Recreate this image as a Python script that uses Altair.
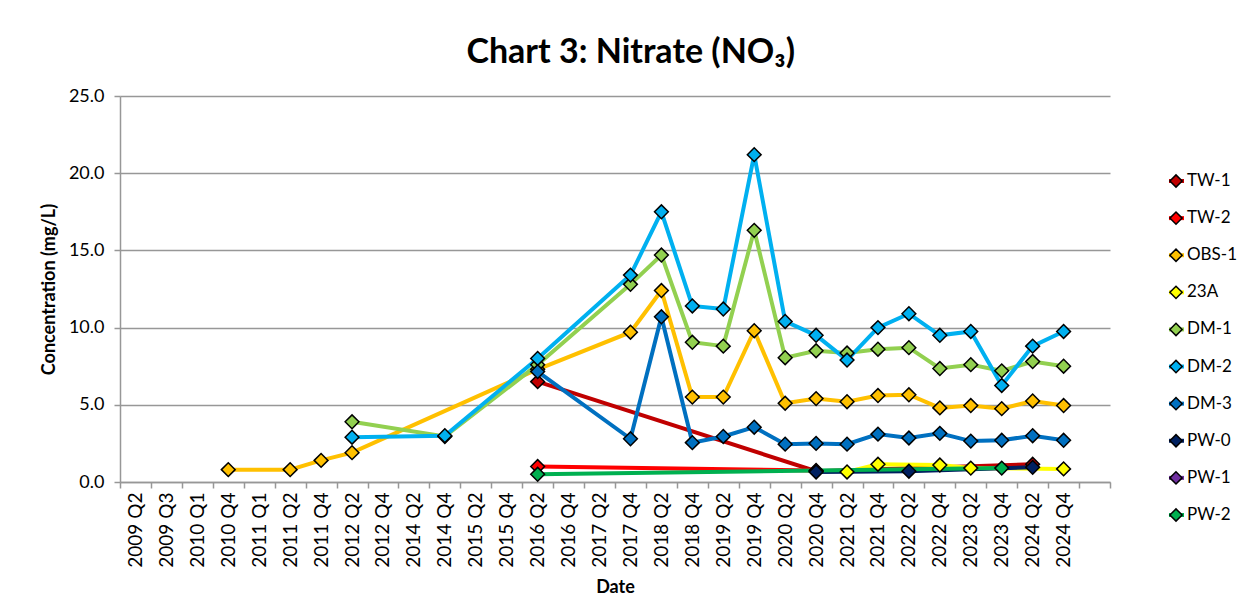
import altair as alt
import pandas as pd

# ---------------- data ----------------
CATEGORIES = [
    "2009 Q2", "2009 Q3", "2010 Q1", "2010 Q4", "2011 Q1", "2011 Q2", "2011 Q4",
    "2012 Q2", "2012 Q4", "2014 Q2", "2014 Q4", "2015 Q2", "2015 Q4", "2016 Q2",
    "2016 Q4", "2017 Q2", "2017 Q4", "2018 Q2", "2018 Q4", "2019 Q2", "2019 Q4",
    "2020 Q2", "2020 Q4", "2021 Q2", "2021 Q4", "2022 Q2", "2022 Q4", "2023 Q2",
    "2023 Q4", "2024 Q2", "2024 Q4", "",
]

SERIES = ["TW-1", "TW-2", "OBS-1", "23A", "DM-1", "DM-2", "DM-3", "PW-0", "PW-1", "PW-2"]
COLORS = ["#C00000", "#FF0000", "#FFC000", "#FFFF00", "#92D050",
          "#00B0F0", "#0070C0", "#002060", "#7030A0", "#00B050"]

Y_TICKS = [0, 5, 10, 15, 20, 25]

TW_1 = {"2016 Q2": 6.5, "2020 Q4": 0.7, "2024 Q2": 1.15}
TW_2 = {"2016 Q2": 1.0, "2020 Q4": 0.75}
OBS_1 = {"2010 Q4": 0.8, "2011 Q2": 0.8, "2011 Q4": 1.4, "2012 Q2": 1.9,
         "2016 Q2": 7.3, "2017 Q4": 9.7, "2018 Q2": 12.4, "2018 Q4": 5.5,
         "2019 Q2": 5.5, "2019 Q4": 9.8, "2020 Q2": 5.1, "2020 Q4": 5.4,
         "2021 Q2": 5.2, "2021 Q4": 5.6, "2022 Q2": 5.65, "2022 Q4": 4.8,
         "2023 Q2": 4.95, "2023 Q4": 4.75, "2024 Q2": 5.25, "2024 Q4": 4.95}
A23 = {"2021 Q2": 0.65, "2021 Q4": 1.15, "2022 Q4": 1.1, "2023 Q2": 0.9, "2024 Q4": 0.85}
DM_1 = {"2012 Q2": 3.9, "2014 Q4": 2.95, "2016 Q2": 7.6, "2017 Q4": 12.8,
        "2018 Q2": 14.7, "2018 Q4": 9.05, "2019 Q2": 8.8, "2019 Q4": 16.3,
        "2020 Q2": 8.05, "2020 Q4": 8.5, "2021 Q2": 8.35, "2021 Q4": 8.6,
        "2022 Q2": 8.7, "2022 Q4": 7.35, "2023 Q2": 7.6, "2023 Q4": 7.2,
        "2024 Q2": 7.8, "2024 Q4": 7.5}
DM_2 = {"2012 Q2": 2.9, "2014 Q4": 3.0, "2016 Q2": 8.0, "2017 Q4": 13.4,
        "2018 Q2": 17.5, "2018 Q4": 11.4, "2019 Q2": 11.2, "2019 Q4": 21.2,
        "2020 Q2": 10.4, "2020 Q4": 9.5, "2021 Q2": 7.9, "2021 Q4": 10.0,
        "2022 Q2": 10.9, "2022 Q4": 9.5, "2023 Q2": 9.75, "2023 Q4": 6.25,
        "2024 Q2": 8.8, "2024 Q4": 9.75}
DM_3 = {"2016 Q2": 7.15, "2017 Q4": 2.8, "2018 Q2": 10.7, "2018 Q4": 2.55,
        "2019 Q2": 2.95, "2019 Q4": 3.55, "2020 Q2": 2.45, "2020 Q4": 2.5,
        "2021 Q2": 2.45, "2021 Q4": 3.1, "2022 Q2": 2.85, "2022 Q4": 3.15,
        "2023 Q2": 2.65, "2023 Q4": 2.7, "2024 Q2": 3.0, "2024 Q4": 2.7}
PW_0 = {"2020 Q4": 0.65, "2022 Q2": 0.7, "2024 Q2": 0.95}
PW_1 = {}
PW_2 = {"2016 Q2": 0.5, "2023 Q4": 0.9}

SERIES_DATA = [TW_1, TW_2, OBS_1, A23, DM_1, DM_2, DM_3, PW_0, PW_1, PW_2]

rows = []
for s_idx, (name, values) in enumerate(zip(SERIES, SERIES_DATA)):
    for date, v in values.items():
        rows.append({"series": name, "date": date, "value": v,
                     "idx": CATEGORIES.index(date), "sidx": s_idx})
df = pd.DataFrame(rows).sort_values(["sidx", "idx"])

FONT = "Lato"
GRAY = "#979797"

color_scale = alt.Scale(domain=SERIES, range=COLORS)

x_enc = alt.X(
    "date:N",
    sort=CATEGORIES,
    scale=alt.Scale(domain=CATEGORIES, type="band", paddingInner=0, paddingOuter=0),
    axis=alt.Axis(
        title="Date", labelAngle=270, tickBand="extent", labelFontSize=19,
        labelPadding=4, tickSize=6, titlePadding=11, titleFontSize=18,
        titleFontWeight="bold", grid=False,
    ),
)
y_enc = alt.Y(
    "value:Q",
    scale=alt.Scale(domain=[0, 25], nice=False),
    axis=alt.Axis(
        values=Y_TICKS, format=".1f", title="Concentration (mg/L)",
        labelFontSize=18, labelPadding=10, tickSize=6, titlePadding=10,
        titleFontSize=18, titleFontWeight="bold", grid=True,
    ),
)

base = alt.Chart(df)
lines = base.mark_line(strokeWidth=4).encode(
    x=x_enc, y=y_enc,
    color=alt.Color("series:N", scale=color_scale, legend=None),
    order=alt.Order("idx:Q"),
)
points = base.mark_point(shape="diamond", filled=True, size=190, stroke="black",
                         strokeWidth=1.5, opacity=1).encode(
    x=x_enc, y=y_enc,
    fill=alt.Fill("series:N", scale=color_scale, legend=None),
)
main = (lines + points).properties(width=990, height=386)

# ---------------- legend panel ----------------
leg_df = pd.DataFrame({"series": SERIES})
ly = alt.Y("series:N", sort=SERIES,
           scale=alt.Scale(domain=SERIES, type="point", padding=0, range=[85, 419]),
           axis=None)
leg_base = alt.Chart(leg_df)
leg_line = leg_base.mark_rule(strokeWidth=4).encode(
    x=alt.value(8), x2=alt.value(23), y=ly,
    color=alt.Color("series:N", scale=color_scale, legend=None),
)
leg_pt = leg_base.mark_point(shape="diamond", filled=True, size=150, stroke="black",
                             strokeWidth=1.5, opacity=1).encode(
    x=alt.value(15), y=ly,
    fill=alt.Fill("series:N", scale=color_scale, legend=None),
)
leg_txt = leg_base.mark_text(align="left", baseline="middle", fontSize=17,
                             font=FONT, color="black").encode(
    x=alt.value(26), y=ly, text="series:N",
)
legend = (leg_line + leg_pt + leg_txt).properties(width=80, height=440)

chart = alt.hconcat(main, legend, spacing=50).properties(
    title=alt.TitleParams("Chart 3: Nitrate (NO₃)", fontSize=34, font=FONT,
                          fontWeight="bold", anchor="middle", offset=17, dx=-10,
                          color="black"),
    padding={"left": 32, "top": 28, "right": 5, "bottom": 5},
).configure_view(stroke=None).configure_axis(
    labelFont=FONT, titleFont=FONT, labelColor="black", titleColor="black",
    domainColor=GRAY, domainWidth=1.5, tickColor=GRAY, tickWidth=1.5,
    gridColor=GRAY, gridWidth=1.5,
)

chart.save("out.html", embed_options={"renderer": "svg", "actions": False})
